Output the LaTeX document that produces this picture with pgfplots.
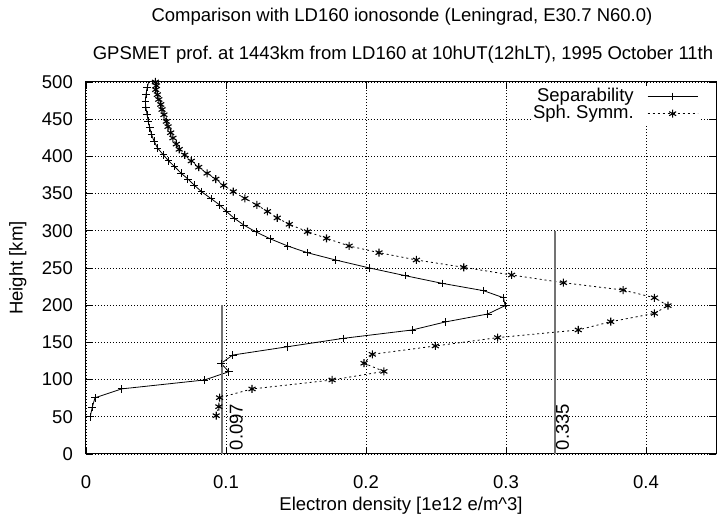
\documentclass[border=0pt]{standalone}
\usepackage{pgfplots}
\pgfplotsset{compat=1.18}
\usepackage{fontspec}
\setmainfont{Liberation Sans}
\newcommand{\bigf}{\fontsize{18.5bp}{20bp}\selectfont}
\frenchspacing
\begin{document}
\bigf
\begin{tikzpicture}[x=1bp,y=1bp]
\path[use as bounding box] (-86,-60) rectangle (631,454);
\begin{axis}[
  at={(0,0)}, anchor=south west,
  scale only axis, width=630bp, height=372bp,
  xmin=0, xmax=0.45, ymin=0, ymax=500,
  xtick={0,0.1,0.2,0.3,0.4},
  xticklabels={0,0.1,0.2,0.3,0.4},
  ytick={0,50,100,150,200,250,300,350,400,450,500},
  yticklabels={0,50,100,150,200,250,300,350,400,450,500},
  tick align=inside, major tick length=7bp,
  tick style={black, line width=0.8bp},
  grid=major,
  major grid style={black, line width=0.7bp, dash pattern=on 0.9bp off 2.1bp},
  axis line style={black, line width=1bp},
  /pgf/number format/assume math mode=true,
  tick label style={font=\bigf, inner sep=0pt},
  xticklabel style={anchor=base, yshift=-35bp},
  yticklabel style={anchor=east, xshift=-13bp},
  xlabel={Electron density [1e12 e/m\textasciicircum 3]},
  ylabel={Height [km]},
  every axis x label/.style={at={(axis description cs:0.5,-0.151)}, anchor=base, font=\bigf},
  every axis y label/.style={at={(axis description cs:-0.108,0.5)}, rotate=90, anchor=center, font=\bigf},
  legend plot pos=right,
  legend cell align=right,
  legend image code/.code={\draw[mark repeat=2,mark phase=2,#1] plot coordinates {(0bp,0bp) (25bp,0bp) (50bp,0bp)};},
  legend style={draw=none, fill=white, at={(rel axis cs:0.975,0.99)}, anchor=north east,
    font=\bigf, inner sep=2bp, row sep=0bp, column sep=13bp,
    nodes={inner sep=0.5bp}},
]
\addplot[black, line width=0.8bp, mark=+, mark size=3.8bp, mark options={solid, line width=0.9bp}] coordinates {
(0.003,50) (0.0045,63) (0.0064,75.5) (0.0254,87.5) (0.0847,99.5) (0.102,110.6)
(0.0965,121.8) (0.1048,133) (0.144,144.2) (0.1836,155.4) (0.233,166.7) (0.2567,177.5)
(0.287,188.2) (0.2994,199.4) (0.2982,210) (0.284,219.5) (0.2543,229.4) (0.228,239.7)
(0.2026,250) (0.1784,260.7) (0.158,270.6) (0.144,279.6) (0.1315,289.3) (0.1214,298.5)
(0.1128,307.6) (0.1058,317) (0.1005,325.7) (0.0955,334.7) (0.0893,343.3) (0.0825,352.6)
(0.0772,361.6) (0.0728,369.6) (0.068,377.3) (0.0633,386.2) (0.0590,394) (0.0553,402)
(0.0512,411) (0.0486,420.5) (0.0468,429.5) (0.0455,438.5) (0.0444,447.5) (0.0436,456.5)
(0.0428,465.5) (0.0424,474.5) (0.0429,483.5) (0.0437,492.5) (0.0448,500.5)
};
\addlegendentry{Separability}
\addplot[black, line width=0.8bp, dash pattern=on 2bp off 3bp, mark=asterisk, mark size=4bp, mark options={solid, line width=1.1bp}] coordinates {
(0.093,51.5) (0.0949,63.6) (0.0954,75.7) (0.1186,87.4) (0.1758,99.5) (0.2128,111)
(0.1986,122) (0.2045,134) (0.2495,145.2) (0.294,156.4) (0.3516,166.7) (0.3748,177.8)
(0.406,189) (0.4157,199.4) (0.406,210) (0.3836,220.4) (0.341,230.2) (0.304,240.6)
(0.2698,250.9) (0.236,260.8) (0.2093,270.6) (0.1879,279.6) (0.1718,289.9) (0.1582,298.8)
(0.1452,308.7) (0.1366,317.3) (0.1296,326) (0.122,334.7) (0.1135,343.6) (0.1052,352.6)
(0.0983,361) (0.0927,369.6) (0.0865,377.3) (0.0805,385.5) (0.0752,393.8) (0.0705,401.9)
(0.0666,409.5) (0.0645,416.5) (0.0621,424.7) (0.0605,431.8) (0.0586,440) (0.0574,447)
(0.0557,456) (0.0543,463) (0.0534,469.8) (0.052,476.5) (0.051,483) (0.0498,489.7)
(0.0503,495) (0.0496,500)
};
\addlegendentry{Sph. Symm.}
\addplot[black!55, line width=1.5bp, forget plot] coordinates {(0.097,0) (0.097,200)};
\addplot[black!55, line width=1.5bp, forget plot] coordinates {(0.335,0) (0.335,300)};
\node[rotate=90, anchor=north west, inner sep=0pt, font=\bigf] at (axis cs:0.1025,5) {0.097};
\node[rotate=90, anchor=north west, inner sep=0pt, font=\bigf] at (axis cs:0.3356,5) {0.335};
\end{axis}
\node[anchor=base, font=\bigf] at (316,432.3) {Comparison with LD160 ionosonde (Leningrad, E30.7 N60.0)};
\node[anchor=base, font=\bigf] at (317,394) {GPSMET prof. at 1443km from LD160 at 10hUT(12hLT), 1995 October 11th};
\end{tikzpicture}
\end{document}
